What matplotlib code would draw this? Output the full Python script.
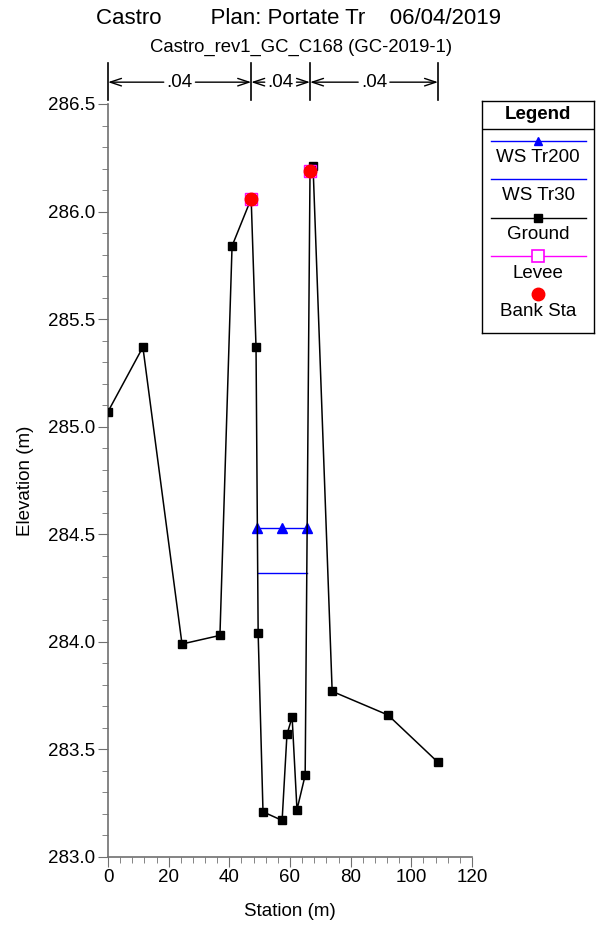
import matplotlib
matplotlib.use('Agg')
import matplotlib.pyplot as plt
from matplotlib.ticker import MultipleLocator

plt.rcParams['font.family'] = ['Liberation Sans', 'DejaVu Sans']

# ground profile (station, elevation)
ground_sta = [0, 11.5, 24.4, 36.9, 40.9, 47.2, 48.8, 49.5, 51.1, 57.4, 59.0, 60.7,
              62.3, 65.0, 66.6, 67.6, 73.9, 92.3, 108.8]
ground_elev = [285.07, 285.37, 283.99, 284.03, 285.84, 286.06, 285.37, 284.04, 283.21,
               283.17, 283.57, 283.65, 283.22, 283.38, 286.19, 286.21, 283.77, 283.66, 283.44]

# water surfaces
ws200_sta = [49.2, 57.4, 65.65]
ws200_elev = [284.53, 284.53, 284.53]
ws30_sta = [49.3, 65.5]
ws30_elev = [284.32, 284.32]

# levees and bank stations
levee_sta = [47.2, 66.6]
levee_elev = [286.06, 286.19]
bank_sta = [47.2, 66.6]
bank_elev = [286.06, 286.19]

# manning's n breakpoints
n_breaks = [0, 47.2, 66.6, 108.8]
n_values = ['.04', '.04', '.04']

fig = plt.figure(figsize=(5.96, 9.32), dpi=100)
ax = fig.add_axes([108 / 596, 75 / 932, 364 / 596, 753 / 932])

ax.plot(ws200_sta, ws200_elev, color='blue', lw=1, marker='^', ms=7, zorder=3)
ax.plot(ws30_sta, ws30_elev, color='blue', lw=1, zorder=3)
ax.plot(ground_sta, ground_elev, color='black', lw=1.1, marker='s', ms=6, zorder=4)
ax.plot(levee_sta, levee_elev, ls='none', marker='s', ms=8.8, mfc='none', mec='magenta',
        mew=1.0, zorder=5)
ax.plot(bank_sta, bank_elev, ls='none', marker='o', ms=9, color='red', zorder=6)

ax.set_xlim(0, 120)
ax.set_ylim(283.0, 286.5)
ax.xaxis.set_major_locator(MultipleLocator(20))
ax.xaxis.set_minor_locator(MultipleLocator(4))
ax.yaxis.set_major_locator(MultipleLocator(0.5))
ax.yaxis.set_minor_locator(MultipleLocator(0.1))
ax.yaxis.set_major_formatter(plt.FormatStrFormatter('%.1f'))
for s in ['top', 'right']:
    ax.spines[s].set_visible(False)
for s in ['left', 'bottom']:
    ax.spines[s].set_color('#707070')
    ax.spines[s].set_linewidth(1.2)
ax.tick_params(which='major', length=7, color='#707070', labelsize=13.5, pad=2)
ax.tick_params(which='minor', length=4, color='#707070')
ax.set_xlabel('Station (m)', fontsize=13.5, labelpad=12)
ax.set_ylabel('Elevation (m)', fontsize=13.5, labelpad=10)

# manning's n markers above the plot
trans = ax.get_xaxis_transform()
arrow = dict(arrowstyle='->,head_length=0.6,head_width=0.2', lw=1, shrinkA=0, shrinkB=0)
for xb in n_breaks:
    ax.plot([xb, xb], [1.005, 1.054], color='black', lw=1.2, transform=trans, clip_on=False)
for i, nv in enumerate(n_values):
    x0, x1 = n_breaks[i], n_breaks[i + 1]
    xm = (x0 + x1) / 2
    ax.annotate(nv, xy=(x0, 1.029), xytext=(xm, 1.029), xycoords=trans, textcoords=trans,
                ha='center', va='center', fontsize=13.5, arrowprops=arrow)
    ax.annotate(nv, xy=(x1, 1.029), xytext=(xm, 1.029), xycoords=trans, textcoords=trans,
                ha='center', va='center', fontsize=13.5, color='none', arrowprops=arrow)

fig.text(0.5, 1 - 18 / 932, 'Castro        Plan: Portate Tr    06/04/2019',
         ha='center', va='center', fontsize=16)
fig.text(0.505, 1 - 47 / 932, 'Castro_rev1_GC_C168 (GC-2019-1)',
         ha='center', va='center', fontsize=13.3)

# legend box, drawn in pixel coordinates
lax = fig.add_axes([482 / 596, (932 - 333) / 932, 112 / 596, 232 / 932])
lax.set_xlim(482, 594)
lax.set_ylim(333, 101)
lax.set_xticks([])
lax.set_yticks([])
for s in lax.spines.values():
    s.set_linewidth(1)
lax.text(538, 115, 'Legend', ha='center', va='center', fontsize=13.5, fontweight='bold')
lax.axhline(129, color='black', lw=1)
lx = [491, 586]
lax.plot(lx, [141, 141], color='blue', lw=1)
lax.plot([538], [141], marker='^', color='blue', ms=6)
lax.text(538, 158, 'WS Tr200', ha='center', va='center', fontsize=13.5)
lax.plot(lx, [179, 179], color='blue', lw=1)
lax.text(538, 196, 'WS Tr30', ha='center', va='center', fontsize=13.5)
lax.plot(lx, [218, 218], color='black', lw=1)
lax.plot([538], [218], marker='s', color='black', ms=6)
lax.text(538, 235, 'Ground', ha='center', va='center', fontsize=13.5)
lax.plot(lx, [256, 256], color='magenta', lw=1)
lax.plot([538], [256], marker='s', ms=9, mfc='white', mec='magenta', mew=1.2)
lax.text(538, 274, 'Levee', ha='center', va='center', fontsize=13.5)
lax.plot([538], [294], marker='o', color='red', ms=9)
lax.text(538, 312, 'Bank Sta', ha='center', va='center', fontsize=13.5)

fig.savefig('out.png', dpi=100)
